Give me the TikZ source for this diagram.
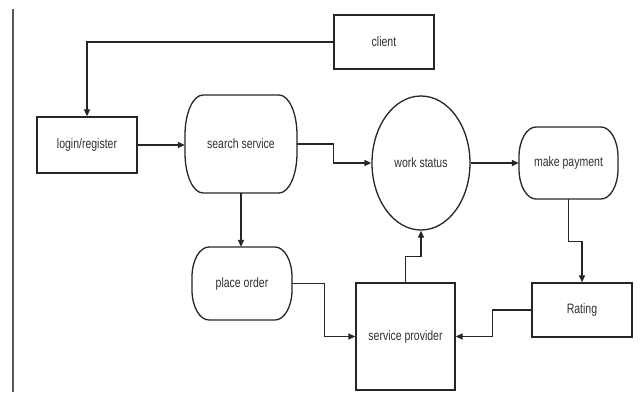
\documentclass[tikz,border=0pt]{standalone}
\usepackage{fontspec}
\setmainfont{Liberation Sans}
\usetikzlibrary{arrows.meta,shapes.geometric,calc}
\definecolor{ln}{HTML}{262626}
\definecolor{tx}{HTML}{303030}
\newcommand{\lbl}[1]{\scalebox{1}[1.3]{#1}}
\tikzset{
  every node/.style={font=\fontsize{10.5}{12}\selectfont, text=tx},
  boxnode/.style={draw=ln, line width=1.3pt, rectangle, inner sep=0pt, minimum width=#1},
  plainnode/.style={rectangle, inner sep=0pt},
  ellnode/.style={draw=ln, line width=1.3pt, ellipse, inner sep=0pt, minimum width=98pt, minimum height=134pt},
  conn/.style={draw=ln, line width=1.3pt, -{Triangle[length=7pt,width=6pt]}},
  plainline/.style={draw=ln, line width=1.3pt}
}
% stadium outline: #1 node name, #2 half width, #3 half height, #4 corner x radius, #5 corner y radius
\newcommand{\stadiumoutline}[5]{%
  \draw[plainline] ($(#1)+(-#2+#4,#3)$) -- ($(#1)+(#2-#4,#3)$)
    arc[start angle=90,end angle=0,x radius=#4,y radius=#5]
    -- ($(#1)+(#2,-#3+#5)$)
    arc[start angle=0,end angle=-90,x radius=#4,y radius=#5]
    -- ($(#1)+(-#2+#4,-#3)$)
    arc[start angle=270,end angle=180,x radius=#4,y radius=#5]
    -- ($(#1)+(-#2,#3-#5)$)
    arc[start angle=180,end angle=90,x radius=#4,y radius=#5] -- cycle;}
\begin{document}
\begin{tikzpicture}[x=1pt,y=1pt]
\useasboundingbox[fill=white] (0,0) rectangle (640,392);
\draw[draw=black!65, line width=1.6pt] (13,383) -- (13,0);

\node[boxnode=100pt, minimum height=54pt] (client) at (384,350) {\lbl{client}};
\node[boxnode=100pt, minimum height=56pt] (login) at (87,247) {\lbl{login/register}};
\node[plainnode, minimum width=112pt, minimum height=98pt] (search) at (241,248) {\lbl{search service}};
\stadiumoutline{search}{56}{49}{18}{40}
\node[plainnode, minimum width=100pt, minimum height=73pt] (place) at (242,108.5) {\lbl{place order}};
\stadiumoutline{place}{50}{36.5}{17}{30}
\node[boxnode=99pt, minimum height=107pt] (sp) at (405.5,55.5) {\lbl{service provider}};
\node[ellnode] (ws) at (421,229) {\lbl{work status}};
\node[plainnode, minimum width=99pt, minimum height=72pt] (mp) at (568.5,229) {\lbl{make payment}};
\stadiumoutline{mp}{49.5}{36}{17}{30}
\node[boxnode=100pt, minimum height=54pt] (rating) at (582,82) {\lbl{Rating}};

\draw[conn] (client.west) -| (login.north);
\draw[conn] (login.east) -- (login.east -| search.west);
\draw[conn] (search.east) -- ++(36,0) |- (ws.west);
\draw[conn] (search.south) -- (search.south |- place.north);
\draw[conn] (place.east) -- ++(32,0) |- (sp.west);
\draw[conn] (ws.east) -- (mp.west);
\draw[conn] (mp.south) -- ++(0,-42) -| (rating.north);
\draw[conn] (rating.west) -- ++(-39,0) |- (sp.east);
\draw[conn] (sp.north) -- ++(0,26) -| (ws.south);
\end{tikzpicture}
\end{document}
